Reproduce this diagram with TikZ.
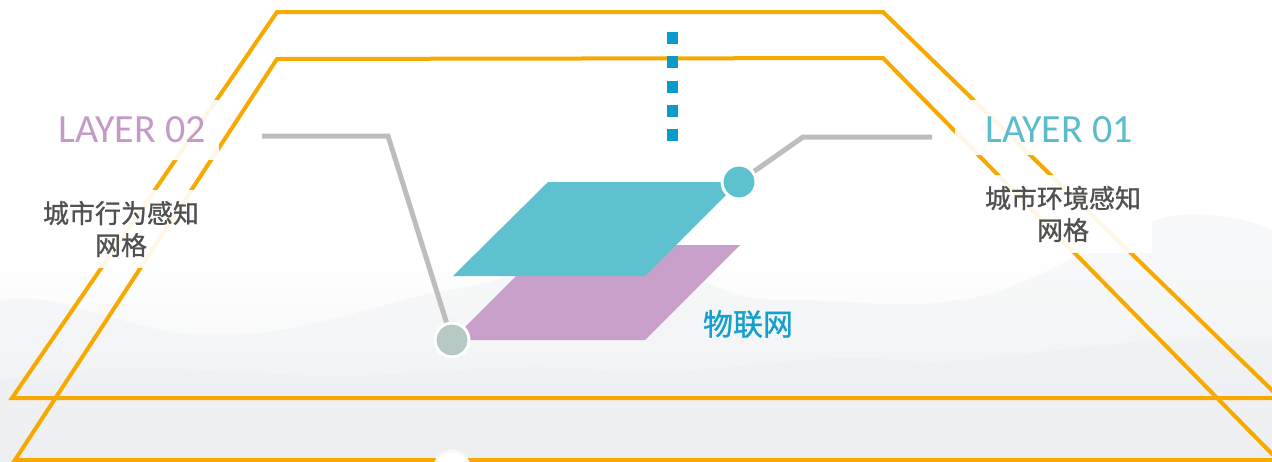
\documentclass[tikz,border=0pt]{standalone}
\usepackage{fontspec}
\setmainfont{Carlito}
\newfontfamily\cjk{Noto Sans CJK SC}
\newfontfamily\cjkb[FakeBold=1]{Noto Sans CJK SC}
\definecolor{orng}{HTML}{F8A900}
\definecolor{tealc}{HTML}{5EC1CF}
\definecolor{purp}{HTML}{C8A0C9}
\definecolor{conng}{HTML}{BDBDBD}
\definecolor{dotg}{HTML}{B6C9C4}
\definecolor{blu}{HTML}{0B9BCB}
\definecolor{txtg}{HTML}{505050}
\definecolor{layp}{HTML}{C49BC6}
\definecolor{layt}{HTML}{5BBDCB}
\definecolor{iotc}{HTML}{14A0CC}
\definecolor{mist}{HTML}{EFF1F3}
\definecolor{mist2}{HTML}{EAECEF}
\tikzset{
  frame/.style={draw=orng, line width=2pt, line join=miter},
  labelbox/.style={fill=white, fill opacity=0.9},
  conn/.style={draw=conng, line width=2.5pt},
  dotc/.style={circle, draw=white, line width=1.5pt, minimum size=17pt, inner sep=0pt},
  layertxt/.style={font=\fontsize{20}{24}\selectfont},
  cjktxt/.style={font=\cjkb\fontsize{13}{16}\selectfont, text=txtg, align=center},
}
\begin{document}
\begin{tikzpicture}[x=0.5pt,y=-0.5pt]
\useasboundingbox (0,0) rectangle (1272,461);
% background
\fill[white] (0,0) rectangle (1272,461);
\shade[top color=white, bottom color=mist] (0,250) rectangle (1272,461);
% faint mountains
\fill[mist, opacity=0.45] (0,300) .. controls (60,290) and (120,330) .. (200,335) .. controls (300,340) and (380,300) .. (450,290) .. controls (520,280) and (560,250) .. (620,250) .. controls (680,250) and (700,300) .. (780,300) .. controls (860,300) and (900,310) .. (960,300) .. controls (1040,290) and (1120,220) .. (1180,215) .. controls (1230,212) and (1260,225) .. (1272,230) -- (1272,461) -- (0,461) -- cycle;
\fill[mist2, opacity=0.3] (0,380) .. controls (100,360) and (200,370) .. (300,375) .. controls (400,380) and (500,360) .. (600,370) .. controls (700,380) and (800,350) .. (900,360) .. controls (1000,370) and (1100,330) .. (1272,340) -- (1272,461) -- (0,461) -- cycle;
% orange frames
\draw[frame] (12,398) -- (277,12) -- (883,12) -- (1280,398) -- cycle;
\draw[frame] (15,460) -- (277,59) -- (883,58) -- (1278,460) -- cycle;
% label boxes
\fill[labelbox] (32,100) rectangle (219,160);
\fill[labelbox] (30,190) rectangle (210,268);
\fill[labelbox] (955,100) rectangle (1150,155);
\fill[labelbox] (963,175) rectangle (1152,253);
% labels
\node[layertxt, text=layp] (lay2) at (132,130) {LAYER 02};
\node[cjktxt] (txt2) at (121,229) {城市行为感知\\网格};
\node[layertxt, text=layt] (lay1) at (1059,130) {LAYER 01};
\node[cjktxt] (txt1) at (1063,214) {城市环境感知\\网格};
% planes
\fill[purp] (452,340) -- (547,245) -- (740,245) -- (645,340) -- cycle;
\fill[tealc] (453,276) -- (548,182) -- (739,182) -- (645,276) -- cycle;
% connector ends
\coordinate (e2) at (262,136);
\coordinate (k2) at (388,136);
\coordinate (e1) at (932,137);
\coordinate (k1) at (803,137);
\node[dotc, fill=dotg] (c2) at (452,340) {};
\node[dotc, fill=tealc] (c1) at (739,182) {};
\draw[conn] (c2) -- (k2) -- (e2);
\draw[conn] (c1) -- (k1) -- (e1);
% dotted blue line
\coordinate (d1) at (672,32);
\coordinate (d2) at (672,142);
\draw[blu, line width=5.5pt, dash pattern=on 6pt off 6.15pt] (d1) -- (d2);
% IoT label
\node[font=\cjkb\fontsize{15}{18}\selectfont, text=iotc] (iot) at (748,324) {物联网};
% bottom faint circle
\node[dotc, fill=white, draw=white!95!gray] (c3) at (452,468) {};
\end{tikzpicture}
\end{document}
